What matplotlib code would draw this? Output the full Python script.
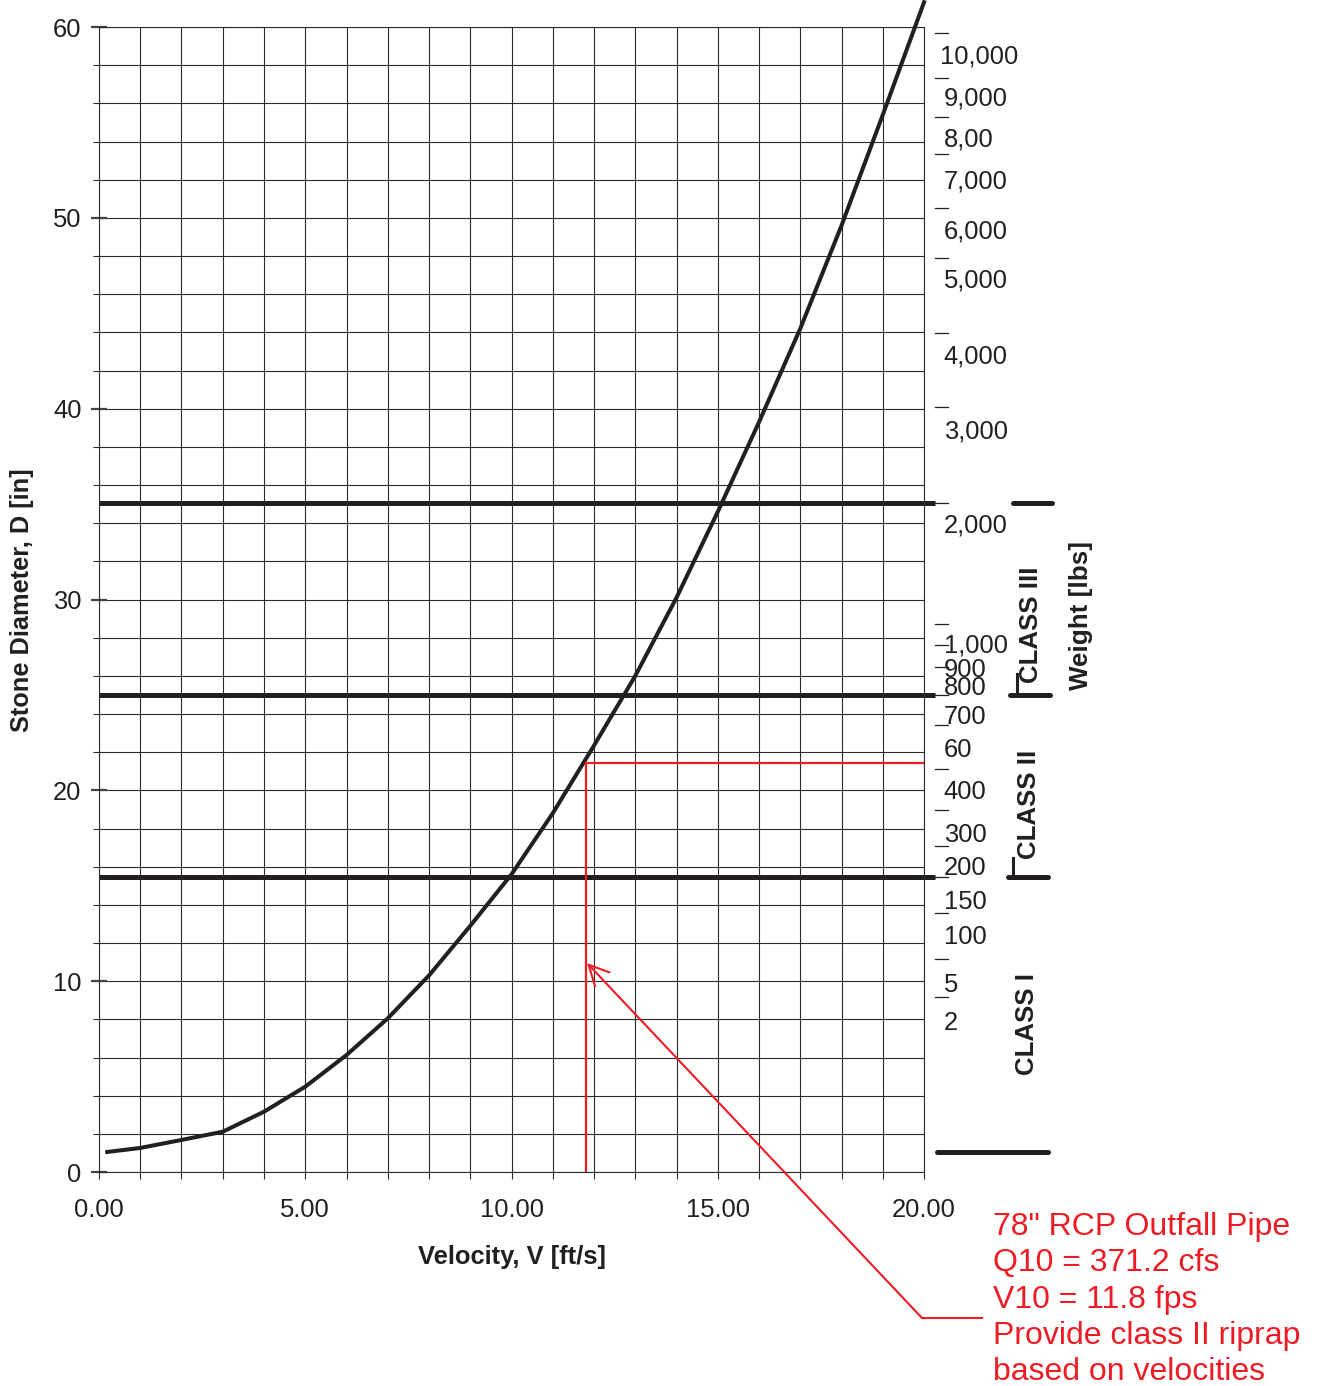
import matplotlib.pyplot as plt
from matplotlib.ticker import MultipleLocator, FuncFormatter

plt.rcParams['font.family'] = ['Liberation Sans', 'DejaVu Sans']

# ===== values =====
# stone diameter curve, D [in] vs V [ft/s]
velocity = [0.2, 1, 2, 3, 4, 5, 6, 7, 8, 9, 10, 11, 12, 13, 14, 15, 16, 17, 18, 19, 20]
diameter = [1.05, 1.26, 1.68, 2.11, 3.16, 4.47, 6.13, 8.05, 10.3, 12.9, 15.6,
            18.8, 22.35, 26.0, 30.1, 34.6, 39.3, 44.2, 49.6, 55.4, 61.3]

# class break lines (D, in)
class_breaks = [15.46, 25.0, 35.05]
class_names = ['CLASS I', 'CLASS II', 'CLASS III']
class_label_d = [7.76, 19.28, 28.66]
class_bottom = 1.05

# weight scale on the right (labels as printed, position in D)
weight_labels = ['10,000', '9,000', '8,00', '7,000', '6,000', '5,000', '4,000', '3,000',
                 '2,000', '1,000', '900', '800', '700', '60', '400', '300', '200',
                 '150', '100', '5', '2']
weight_label_d = [58.43, 56.23, 54.08, 51.93, 49.31, 46.74, 42.76, 38.83,
                  33.9, 27.6, 26.3, 25.36, 23.84, 22.11, 19.91, 17.66, 15.93,
                  14.15, 12.31, 9.8, 7.81]
weight_dash_d = [59.69, 57.33, 55.28, 53.35, 50.52, 47.9, 43.97, 40.09, 35.05,
                 28.72, 27.62, 26.47, 25.0, 23.43, 21.12, 18.98, 17.09, 15.46,
                 13.57, 11.16, 9.17]

# design point
v10 = 11.8
d_req = 21.45
arrow_tip = (11.83, 10.95)
note_lines = ['78" RCP Outfall Pipe', 'Q10 = 371.2 cfs', 'V10 = 11.8 fps',
              'Provide class II riprap', 'based on velocities']

RED = '#ED1C24'
INK = '#231F20'
GRID = '#2b2b2b'

fig = plt.figure(figsize=(13.18, 13.86), dpi=100)
ax = fig.add_axes([0.0751, 0.1544, 0.626, 0.8261])

ax.set_xlim(0, 20)
ax.set_ylim(0, 60)

# -------- grid / ticks --------
ax.xaxis.set_major_locator(MultipleLocator(1))
ax.xaxis.set_major_formatter(FuncFormatter(lambda v, p: f'{v:.2f}' if v % 5 == 0 else ''))
ax.yaxis.set_major_locator(MultipleLocator(10))
ax.yaxis.set_minor_locator(MultipleLocator(2))
ax.grid(True, which='both', color=GRID, linewidth=0.8)
ax.set_axisbelow(True)
ax.tick_params(axis='x', direction='out', length=5, width=0.8, color=GRID,
               labelsize=18.4, pad=14, labelcolor=INK)
ax.tick_params(axis='y', which='major', direction='inout', length=11, width=1.6,
               color='#444444', labelsize=18.4, pad=7, labelcolor=INK)
ax.tick_params(axis='y', which='minor', direction='out', length=4.5, width=0.8, color=GRID)
for s in ax.spines.values():
    s.set_color(GRID)
    s.set_linewidth(0.8)

# -------- class lines and curve --------
for d in class_breaks:
    ax.plot([0, 20.27], [d, d], color=INK, lw=3.6, solid_capstyle='butt', clip_on=False)

ax.plot(velocity, diameter, color=INK, lw=2.9, clip_on=False, zorder=5,
        solid_joinstyle='round')

# -------- design point (red) --------
ax.plot([v10, v10, 20], [0, d_req, d_req], color=RED, lw=1.6, zorder=6)
tail = (19.95, -7.65)
ax.annotate('', xy=arrow_tip, xytext=tail, annotation_clip=False,
            arrowprops=dict(arrowstyle='->,head_length=0.4,head_width=0.2',
                            mutation_scale=36, color=RED, lw=1.5,
                            shrinkA=0, shrinkB=0))
ax.plot([tail[0], 21.4], [tail[1], tail[1]], color=RED, lw=1.5, clip_on=False)
note_base = [-3.30, -5.19, -7.13, -9.01, -10.9]
for txt, yb in zip(note_lines, note_base):
    ax.text(21.67, yb, txt, color=RED, fontsize=23, ha='left', va='baseline')

# -------- weight scale --------
for d in weight_dash_d:
    ax.plot([20.27, 20.58], [d, d], color=INK, lw=0.9, clip_on=False)
for txt, d in zip(weight_labels, weight_label_d):
    x0 = 20.39 if txt == '10,000' else 20.48
    ax.text(x0, d, txt, fontsize=18.4, color=INK, ha='left', va='center')

# class brackets
bracket_lines = [(22.16, 23.1, class_breaks[2]), (22.08, 23.05, class_breaks[1]),
                 (22.04, 23.0, class_breaks[0]), (20.32, 23.0, class_bottom)]
for x0, x1, d in bracket_lines:
    ax.plot([x0, x1], [d, d], color=INK, lw=3.6, solid_capstyle='round', clip_on=False)
ax.plot([22.26, 22.26], [class_breaks[1], class_breaks[1] + 1.1], color=INK, lw=2.2, clip_on=False)
ax.plot([22.16, 22.16], [class_breaks[0], class_breaks[0] + 1.0], color=INK, lw=2.2, clip_on=False)

class_label_v = [22.5, 22.55, 22.6]
for name, v, d in zip(class_names, class_label_v, class_label_d):
    ax.text(v, d, name, rotation=90, fontsize=18.6, fontweight='bold', color=INK,
            ha='center', va='center')

fig.text(1081 / 1318, 1 - 615 / 1386, 'Weight [lbs]', rotation=90, fontsize=18.7,
         fontweight='bold', color=INK, ha='center', va='center')

# -------- axis titles --------
fig.text(511.5 / 1318, 1 - 1257 / 1386, 'Velocity, V [ft/s]', fontsize=18.4,
         fontweight='bold', color=INK, ha='center', va='center')
fig.text(22 / 1318, 1 - 600 / 1386, 'Stone Diameter, D [in]', rotation=90, fontsize=18.3,
         fontweight='bold', color=INK, ha='center', va='center')

fig.savefig('out.png', dpi=100)
